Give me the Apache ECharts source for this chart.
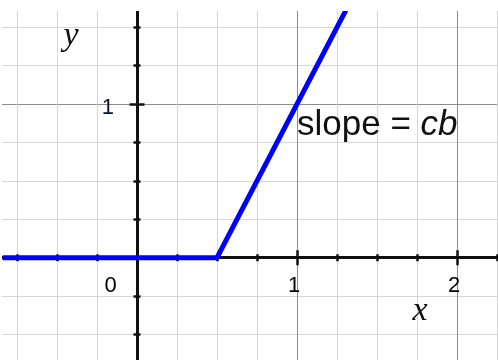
<!DOCTYPE html>
<html>
<head>
<meta charset="utf-8">
<script src="https://cdn.jsdelivr.net/npm/echarts@6/dist/echarts.min.js"></script>
<style>
    html, body {margin: 0; padding: 0; background: #fff;}
    #chart {width: 498px; height: 360px;}
</style>
</head>
<body>
<div id="chart"></div>
<script>
// ramp: flat at 0 until 0.5, then rises with slope cb (2 on this grid)
var rampX = [-0.84, 0.5, 1.5];
var rampY = [0, 0, 2];
var xTickLabels = ['0', '1', '2'];
var yTickLabels = ['1'];
var xRange = [-1, 3];
var yRange = [-1, 2];

var chartDom = document.getElementById('chart');
var chart = echarts.init(chartDom);

var rampData = rampX.map((x, i) => [x, rampY[i]]);

var axisColor = '#111';
var numFont = 'Liberation Sans, Arial, sans-serif';

// grid 0 = whole paper, grid 1 ends at the x axis, grid 2 starts at the y axis
var paper = {left: -23, right: -119, top: -49.5, bottom: -51.3, outerBoundsMode: 'none'};
var xCarrier = {left: -23, right: -119, top: -49.5, bottom: 102.3, outerBoundsMode: 'none'};
var yCarrier = {left: 137, right: -119, top: -49.5, bottom: -51.3, outerBoundsMode: 'none'};

function paperAxis(range, grid) {
    return {
        type: 'value',
        gridIndex: grid,
        min: range[0],
        max: range[1],
        interval: 1,
        axisLine: {show: false},
        axisTick: {show: false},
        minorTick: {show: false, splitNumber: 4},
        axisLabel: {show: false},
        splitLine: {show: true, lineStyle: {color: '#8c8c8c', width: 1}},
        minorSplitLine: {show: true, lineStyle: {color: '#d6d6d6', width: 1}}
    };
}

// black axis line with ticks; two of them (inside + outside) make the ticks cross the line
function blackAxis(range, grid, pos, inside, labels) {
    var isX = pos === 'bottom';
    return {
        type: 'value',
        gridIndex: grid,
        position: pos,
        min: range[0],
        max: range[1],
        interval: 1,
        axisLine: {show: true, onZero: false, lineStyle: {color: axisColor, width: 3}},
        axisTick: {show: true, inside: inside, length: 7.5, lineStyle: {color: axisColor, width: 2.5}},
        minorTick: {show: true, splitNumber: 4, length: 3.5, lineStyle: {color: axisColor, width: 2.5}},
        splitLine: {show: false},
        axisLabel: {
            show: !!labels,
            margin: isX ? 17 : 23,
            formatter: (v) => {
                var s = String(v);
                if (!labels || labels.indexOf(s) < 0) return '';
                if (isX) return s === '0' ? '{z|' + s + '}' : '{n|' + s + '}';
                return '{y|' + s + '}';
            },
            rich: {
                z: {fontFamily: numFont, fontSize: 22, color: '#000', padding: [0, 53, 0, 0]},
                n: {fontFamily: numFont, fontSize: 22, color: '#000', padding: [0, 6, 0, 0]},
                y: {fontFamily: numFont, fontSize: 22, color: '#061038', padding: [7, 0, 0, 0]}
            }
        }
    };
}

var option = {
    animation: false,
    grid: [paper, xCarrier, yCarrier],
    xAxis: [
        paperAxis(xRange, 0),
        blackAxis(xRange, 1, 'bottom', false, xTickLabels),
        blackAxis(xRange, 1, 'bottom', true, null),
        {type: 'value', gridIndex: 2, show: false, min: 0, max: 1}
    ],
    yAxis: [
        paperAxis(yRange, 0),
        {type: 'value', gridIndex: 1, show: false, min: 0, max: 1},
        blackAxis(yRange, 2, 'left', false, yTickLabels),
        blackAxis(yRange, 2, 'left', true, null)
    ],
    series: [
        {
            type: 'line',
            xAxisIndex: 0,
            yAxisIndex: 0,
            data: rampData,
            symbol: 'none',
            z: 10,
            lineStyle: {color: '#0000ff', width: 5, join: 'miter'}
        }
    ],
    graphic: [
        {type: 'rect', z: 50, shape: {x: 0, y: 0, width: 498, height: 11}, style: {fill: '#fff'}},
        {type: 'rect', z: 50, shape: {x: 0, y: 0, width: 2, height: 360}, style: {fill: '#fff'}},
        {
            type: 'text', z: 60,
            style: {
                x: 71, y: 36, text: 'y', fill: '#111',
                font: 'italic 34px "Liberation Serif", "Times New Roman", serif',
                textAlign: 'center', textVerticalAlign: 'middle'
            }
        },
        {
            type: 'text', z: 60,
            style: {
                x: 420, y: 311, text: 'x', fill: '#111',
                font: 'italic 34px "Liberation Serif", "Times New Roman", serif',
                textAlign: 'center', textVerticalAlign: 'middle'
            }
        },
        {
            type: 'text', z: 60,
            style: {
                x: 297, y: 125, text: 'slope = {i|cb}', fill: '#111',
                font: '35px "Liberation Sans", Arial, sans-serif',
                textAlign: 'left', textVerticalAlign: 'middle',
                rich: {i: {fontStyle: 'italic', fontSize: 35, fontFamily: 'Liberation Sans', fill: '#111'}}
            }
        }
    ]
};

chart.setOption(option);
</script>
</body>
</html>
